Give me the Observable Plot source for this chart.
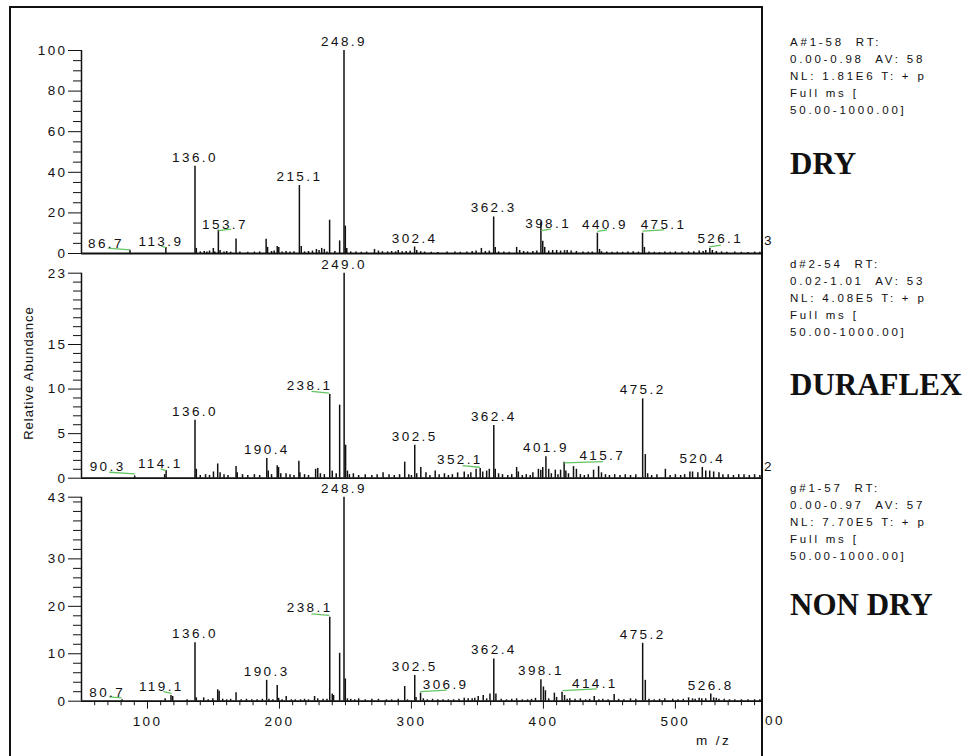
<!DOCTYPE html>
<html>
<head>
<meta charset="utf-8">
<script src="https://cdn.jsdelivr.net/npm/d3@7"></script>
<script src="https://cdn.jsdelivr.net/npm/@observablehq/plot@0.6"></script>
<style>
  body { margin: 0; background: #fff; }
  #chart { position: relative; width: 971px; height: 756px; overflow: hidden; background: #fff;
           font-family: 'Liberation Sans', Arial, sans-serif; color: #111; }
  #chart svg { position: absolute; left: 0; }
  .frame { position: absolute; left: 9px; top: 6px; width: 754px; height: 770px; box-sizing: border-box;
           border: 2px solid #111; border-bottom: none; }
  .info { position: absolute; left: 790px; font-size: 11.5px; letter-spacing: 2.8px; line-height: 17px; white-space: pre; }
  .sample { position: absolute; left: 790px; font-family: 'Liberation Serif', 'Times New Roman', serif; font-weight: bold;
            font-size: 31px; line-height: 31px; white-space: pre; color: #111; }
  .small { position: absolute; font-size: 13.5px; letter-spacing: 2.4px; line-height: 16px; white-space: pre; }
  .ylab { position: absolute; font-size: 13px; letter-spacing: 1px; white-space: pre; transform: translate(-50%, -50%) rotate(-90deg); }
</style>
</head>
<body>
<div id="chart"></div>
<script>
// ---------------- data ----------------
const xDomain = [50, 566];
const xMajorTicks = [100, 200, 300, 400, 500];
const xMinorTicks = [60, 70, 80, 90, 110, 120, 130, 140, 150, 160, 170, 180, 190, 210, 220, 230, 240, 250, 260, 270, 280, 290,
  310, 320, 330, 340, 350, 360, 370, 380, 390, 410, 420, 430, 440, 450, 460, 470, 480, 490, 510, 520, 530, 540, 550, 560];

const sampleNames = ["DRY", "DURAFLEX", "NON DRY"];
const infoLines = [
  ["A#1-58  RT:", "0.00-0.98  AV: 58", "NL: 1.81E6 T: + p", "Full ms [", "50.00-1000.00]"],
  ["d#2-54  RT:", "0.02-1.01  AV: 53", "NL: 4.08E5 T: + p", "Full ms [", "50.00-1000.00]"],
  ["g#1-57  RT:", "0.00-0.97  AV: 57", "NL: 7.70E5 T: + p", "Full ms [", "50.00-1000.00]"]
];
const yMaxes = [100, 23, 43];
const yMajorTicks = [[0, 20, 40, 60, 80, 100], [0, 5, 10, 15, 23], [0, 10, 20, 30, 43]];
const yMinorTicks = [
  [5, 10, 15, 25, 30, 35, 45, 50, 55, 65, 70, 75, 85, 90, 95],
  [1, 2, 3, 4, 6, 7, 8, 9, 11, 12, 13, 14, 16, 17, 18, 19, 20, 21, 22],
  [2, 4, 6, 8, 12, 14, 16, 18, 22, 24, 26, 28, 32, 34, 36, 38, 40, 42]
];

// [m/z, relative abundance]
const dryPeaks = [
  [86.7,1.6],[113.9,3.0],[136.0,43.0],[137.0,2.5],[140,0.8],[143,1.0],[145,0.7],[147,1.2],[149.9,2.5],[151,0.8],
  [153.7,11.5],[155,1.5],[158,0.8],[160,1.0],[163,0.7],[167.1,7.2],[170,0.8],[176,0.6],[181,0.7],[185,0.8],
  [189.9,7.0],[191,3.0],[194,1.0],[196,1.2],[198.3,3.5],[199.5,3.0],[202,0.8],[205,1.0],[208,0.7],[211,0.9],
  [215.1,33.5],[216.5,3.5],[219,0.8],[222,1.0],[225,1.2],[228,2.0],[230,1.5],[232,2.5],[234,2.0],[236,0.8],
  [238.0,16.4],[242,1.0],[245.6,6.2],[248.9,100],[249.9,13.5],[251,2.5],[254,0.8],[258,0.7],[262,0.6],[266,0.7],
  [272,2.0],[275,1.2],[278,0.9],[282,0.8],[285,1.0],[288,0.8],[290,1.5],[293,0.9],[296,1.0],[299,1.1],
  [302.4,3.2],[304,1.5],[307,0.9],[310,0.7],[315,0.6],[320,0.5],[327,0.7],[333,0.8],[337,0.6],[342,0.8],
  [346,1.0],[349,1.2],[353,2.5],[356,1.0],[359,1.2],[362.3,18.0],[363.5,3.0],[366,0.8],[370,0.7],[374,0.6],
  [379.7,3.0],[382,1.5],[385,1.0],[388,0.8],[392,1.0],[395,1.2],[398.1,15.5],[399.5,6.0],[401,3.0],[404,1.2],
  [407,1.5],[410,1.5],[413,1.2],[416,1.4],[418,1.5],[421,1.2],[425,1.0],[430,0.8],[434,0.7],[437,0.8],
  [440.9,10.0],[442.5,2.0],[444,0.9],[448,0.7],[452,0.6],[456,0.7],[460,0.6],[464,0.8],[468,0.9],[472,0.7],
  [475.1,10.0],[476.5,3.0],[480,0.8],[484,0.6],[488,0.5],[492,0.7],[496,0.6],[500,0.8],[505,0.7],[510,0.8],
  [514,0.9],[518,1.2],[521,1.0],[523,1.5],[526.1,2.5],[528,1.5],[531,1.0],[535,0.8],[539,0.6],[545,0.7],
  [550,0.6],[555,0.5],[560,0.7],[564,0.6]
];
const duraPeaks = [
  [90.3,0.25],[113,0.4],[114.1,0.86],[136.0,6.5],[137,1.0],[140,0.3],[144,0.4],[147,0.3],[150,0.7],[153.2,1.6],
  [155,0.6],[158,0.4],[161,0.3],[167.1,1.3],[168,0.6],[172,0.4],[176,0.3],[181,0.4],[185,0.3],[190.4,2.2],
  [191.5,0.8],[194,0.4],[198.3,1.4],[199.3,1.2],[201,0.5],[205,0.5],[208,0.4],[211,0.3],[214.7,1.9],[215.5,0.6],
  [219,0.4],[222,0.3],[227.4,1.0],[229,1.1],[231,0.5],[234,0.4],[238.1,9.4],[240,0.8],[243,0.5],[245.6,8.2],
  [249.0,23],[250.1,3.7],[251.5,0.8],[253,0.4],[256,0.5],[260,0.3],[265,0.4],[270,0.3],[274,0.4],[278.5,0.6],
  [283,0.4],[287,0.3],[291,0.4],[294.9,1.8],[298,0.4],[300,0.3],[302.5,3.7],[304,0.5],[307.1,1.2],[311,0.6],
  [314,0.3],[318,0.8],[321,0.4],[325,0.5],[328,0.3],[331,0.4],[335,0.6],[340,0.7],[343,0.4],[345,0.6],
  [349,1.0],[352.1,1.1],[354,0.7],[357,0.8],[359,1.0],[362.4,5.9],[363.5,1.0],[366,0.5],[369,0.4],[373,0.3],
  [376,0.4],[379.7,1.2],[381,0.7],[384,0.3],[387,0.4],[390,0.3],[392,0.6],[396.2,1.0],[398,0.9],[399.5,1.2],
  [401.9,2.4],[404,1.0],[406,0.5],[409,0.9],[411,0.4],[413,0.9],[415.7,1.8],[417,0.8],[419,0.5],[422.8,1.3],
  [425,1.0],[428,0.4],[431,0.3],[434,0.4],[438,0.9],[441.8,1.3],[444,0.6],[447,0.4],[450,0.3],[454,0.4],
  [458,0.3],[462,0.4],[466,0.3],[470,0.4],[475.2,8.9],[477.2,2.65],[479,0.5],[482,0.3],[486,0.4],[492.4,1.0],
  [496,0.3],[500,0.4],[504,0.3],[507,0.4],[511,0.7],[513,0.7],[517,0.6],[520.4,1.2],[523,0.8],[526,0.8],
  [529,0.7],[533,0.6],[536,0.4],[540,0.4],[544,0.3],[548,0.4],[552,0.4],[556,0.3],[560,0.4],[564,0.3]
];
const nonDryPeaks = [
  [80.7,0.3],[113.4,0.5],[117.8,1.2],[119.1,1.0],[130,0.3],[136.0,12.3],[137,0.7],[142.6,0.7],[146,0.3],[149.5,0.5],
  [153.2,2.4],[154.3,2.1],[157,0.4],[160,0.3],[163,0.4],[167.1,1.8],[171,0.3],[175,0.4],[179,0.3],[183,0.3],
  [187,0.4],[190.3,4.4],[192,0.4],[195,0.3],[198.3,3.3],[199.4,0.6],[202,0.3],[205.1,1.0],[209,0.3],[212,0.3],
  [216,0.3],[219,0.4],[222,0.3],[226.6,1.0],[229,0.5],[233,0.4],[236,0.4],[238.1,17.7],[240,1.5],[241,1.2],
  [245.6,10.1],[248.9,43],[249.9,4.7],[251.5,0.5],[254,0.4],[257,0.3],[260,0.5],[265,0.3],[270,0.4],[275,0.4],
  [281,0.3],[285,0.3],[290,0.4],[294.9,3.1],[297,0.3],[302.5,5.4],[303.5,0.8],[306.9,1.7],[309,0.5],[312,0.3],
  [316,0.4],[320,0.3],[324,0.3],[328,0.3],[332,0.3],[336,0.4],[340,0.6],[343,0.5],[346,0.5],[348,0.6],
  [350.6,1.0],[354.4,1.2],[357,0.5],[359.5,1.5],[362.4,8.9],[364,1.5],[368,0.4],[372,0.3],[376,0.4],[379.7,0.5],
  [384,0.3],[388,0.3],[391,0.4],[394,0.6],[398.1,4.5],[400,3.0],[401.5,2.2],[404,0.5],[408.3,1.7],[410,0.8],
  [414.1,1.9],[416,1.2],[418,0.4],[420,0.5],[424,0.4],[428,0.5],[432,0.3],[435,0.4],[438.5,1.0],[442,0.3],
  [445,0.4],[449,0.3],[453.6,1.4],[457,0.4],[461,0.3],[466,0.5],[470,0.4],[475.2,12.2],[477.2,4.4],[480,0.4],
  [484,0.3],[488,0.4],[492,0.5],[498,0.4],[502,0.3],[506,0.4],[510,0.7],[513,0.5],[515,0.4],[518,0.6],
  [520,0.5],[523,0.5],[526.8,1.5],[529,0.7],[531,0.6],[533,0.4],[537,0.4],[541,0.3],[545,0.3],[550,0.3],
  [555,0.3],[560,0.3],[564,0.3]
];

// peaks labelled directly above their apex (m/z)
const dryDirect = [136.0, 215.1, 248.9, 302.4, 362.3];
const duraDirect = [136.0, 190.4, 249.0, 302.5, 362.4, 401.9, 475.2, 520.4];
const nonDryDirect = [136.0, 190.3, 248.9, 302.5, 362.4, 398.1, 475.2, 526.8];

// labels set aside with a green leader:
// [m/z, label m/z, label abundance, leader from m/z, from abundance, to m/z, to abundance]
const dryCallouts = [
  [86.7, 68.5, 2.8, 70, 2.6, 86.7, 1.8],
  [113.9, 110.2, 3.6, 110.5, 3.5, 113.9, 3.0],
  [153.7, 158.7, 12.2, 153.7, 11.3, 163.3, 12.0],
  [398.1, 403.6, 12.7, 398.1, 11.3, 405.6, 12.0],
  [440.9, 446.6, 12.2, 440.9, 10.9, 448.3, 11.6],
  [475.1, 491.0, 12.2, 475.1, 11.0, 491.4, 11.6],
  [526.1, 534.0, 5.1, 525.6, 3.3, 534.5, 4.1]
];
const duraCallouts = [
  [90.3, 69.8, 0.79, 71, 0.67, 90.3, 0.49],
  [114.1, 109.7, 1.17, 110, 1.05, 114.1, 0.86],
  [238.1, 222.8, 9.84, 224.3, 9.73, 237.7, 9.54],
  [352.1, 336.7, 1.54, 338.7, 1.42, 351.8, 1.23],
  [415.7, 444.6, 1.99, 415.7, 1.72, 445.2, 1.87]
];
const nonDryCallouts = [
  [80.7, 69.5, 0.99, 71, 0.91, 80.4, 0.7],
  [119.1, 110.5, 2.1, 112, 2.0, 118.3, 1.67],
  [238.1, 222.9, 18.8, 224.3, 18.4, 237.7, 18.1],
  [306.9, 325.9, 2.6, 306.7, 2.0, 326.7, 2.35],
  [414.1, 439.0, 2.8, 414.5, 2.25, 440.5, 2.6]
];

// ---------------- drawing ----------------
const fmt = d3.format(".1f");
const ink = "#111";
const green = "#63c463";
const chart = document.getElementById("chart");

function panel({peaks, direct, callouts, yMax, yMajor, yMinor, top, height, mt, mb, xAxis}) {
  const peakMap = new Map(peaks.map(d => [d[0], d[1]]));
  const directData = direct.map(m => ({m, v: peakMap.get(m)}));
  const marks = [
    Plot.ruleX(peaks, {x: d => d[0], y1: 0, y2: d => d[1], stroke: "#111", strokeWidth: 1.5}),
    Plot.ruleY([0], {stroke: "#111", strokeWidth: 1.8}),
    Plot.ruleX([xDomain[0]], {y1: 0, y2: yMax, stroke: "#111", strokeWidth: 1.5}),
    Plot.axisY({ticks: yMajor, tickSize: 13, tickPadding: 1, label: null, tickFormat: d => String(d)}),
    Plot.axisY({ticks: yMinor, tickSize: 8, label: null, tickFormat: () => ""}),
    Plot.link(callouts, {x1: d => d[3], y1: d => d[4], x2: d => d[5], y2: d => d[6], stroke: green, strokeWidth: 1.3}),
    Plot.text(directData, {x: d => d.m, y: d => d.v, text: d => fmt(d.m), lineAnchor: "bottom", dy: -4.5, fill: ink}),
    Plot.text(callouts, {x: d => d[1], y: d => d[2], text: d => fmt(d[0]), lineAnchor: "bottom", fill: ink})
  ];
  if (xAxis) {
    marks.push(
      Plot.axisX({ticks: xMajorTicks, tickSize: 8, tickPadding: 7, label: null, tickFormat: d => String(d)}),
      Plot.axisX({ticks: xMinorTicks, tickSize: 4.5, label: null, tickFormat: () => ""})
    );
  }
  const svg = Plot.plot({
    width: 780, height,
    marginLeft: 81, marginRight: 18, marginTop: mt, marginBottom: mb,
    x: xAxis ? {domain: xDomain, label: null} : {domain: xDomain, label: null, axis: null},
    y: {domain: [0, yMax], label: null},
    style: {background: "transparent", overflow: "visible", color: ink,
            fontFamily: "'Liberation Sans', Arial, sans-serif", fontSize: "13.5px", letterSpacing: "2.4px"},
    marks
  });
  svg.style.top = top + "px";
  chart.appendChild(svg);
}

panel({peaks: dryPeaks, direct: dryDirect, callouts: dryCallouts, yMax: yMaxes[0],
       yMajor: yMajorTicks[0], yMinor: yMinorTicks[0], top: 0, height: 262, mt: 50, mb: 9, xAxis: false});
panel({peaks: duraPeaks, direct: duraDirect, callouts: duraCallouts, yMax: yMaxes[1],
       yMajor: yMajorTicks[1], yMinor: yMinorTicks[1], top: 253, height: 232, mt: 19.7, mb: 7.3, xAxis: false});
panel({peaks: nonDryPeaks, direct: nonDryDirect, callouts: nonDryCallouts, yMax: yMaxes[2],
       yMajor: yMajorTicks[2], yMinor: yMinorTicks[2], top: 478, height: 278, mt: 18.7, mb: 55.3, xAxis: true});

// frame
const frame = document.createElement("div");
frame.className = "frame";
chart.appendChild(frame);

function addText(cls, text, left, top) {
  const el = document.createElement("div");
  el.className = cls;
  el.textContent = text;
  el.style.left = left + "px";
  el.style.top = top + "px";
  chart.appendChild(el);
  return el;
}

// y-axis title and x-axis title
addText("ylab", "Relative Abundance", 28, 373);
addText("small", "m /z", 696, 733);
// clipped edge labels
addText("small", "00", 765, 713);
addText("small", "3", 764, 233);
addText("small", "2", 764, 459);

// right-hand scan information and sample names
const infoTops = [33.5, 255.5, 479.5];
const nameTops = [147.5, 368.5, 588.5];
infoLines.forEach((lines, i) => addText("info", lines.join("\n"), 790, infoTops[i]));
sampleNames.forEach((name, i) => addText("sample", name, 790, nameTops[i]));
</script>
</body>
</html>
